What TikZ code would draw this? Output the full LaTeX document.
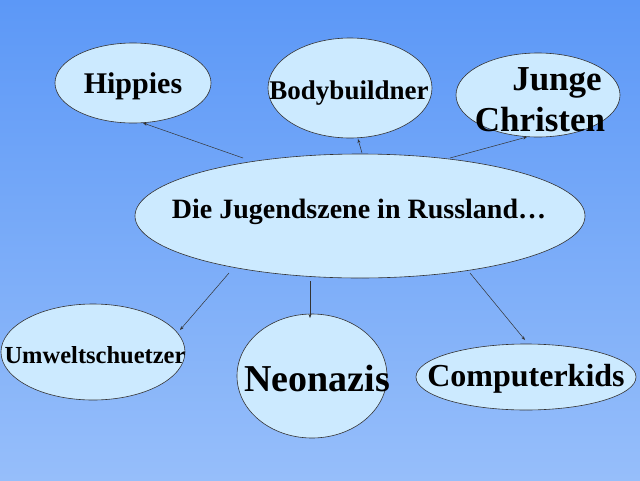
\documentclass[tikz,border=0pt]{standalone}
\usepackage{fontspec}
\setmainfont{Liberation Serif}
\usetikzlibrary{shapes.geometric,arrows.meta}
\begin{document}
\begin{tikzpicture}[x=1pt,y=-1pt,
  bub/.style={ellipse,draw=black!80,line width=0.6pt,fill={rgb,255:red,204;green,234;blue,255},inner sep=0pt,align=center},
  con/.style={draw=black!80,line width=0.5pt,-{Stealth[length=4pt,width=3pt]}}]
\shade[top color={rgb,255:red,92;green,152;blue,247},bottom color={rgb,255:red,150;green,190;blue,250}] (0,0) rectangle (640,480);
\useasboundingbox (0,0) rectangle (640,480);
\node[bub,minimum width=156pt,minimum height=80pt] (hip) at (133,83) {};
\node[font=\bfseries\fontsize{30}{34}\selectfont] at (133,86) {Hippies};
\node[bub,minimum width=164pt,minimum height=100pt] (bod) at (350,88) {};
\node[font=\bfseries\fontsize{27}{30}\selectfont] at (349,93) {Bodybuildner};
\node[bub,minimum width=164pt,minimum height=84pt] (jc) at (538,95) {};
\node[font=\bfseries\fontsize{35}{41}\selectfont,align=center] at (540,100) {\hspace*{34pt}Junge\\Christen};
\node[bub,minimum width=450pt,minimum height=124pt] (c) at (360,216) {};
\node[font=\bfseries\fontsize{28}{32}\selectfont] at (359,212) {Die Jugendszene in Russland…};
\node[bub,minimum width=184pt,minimum height=96pt] (um) at (93,352) {};
\node[font=\bfseries\fontsize{24.5}{28}\selectfont] at (95,355) {Umweltschuetzer};
\node[bub,minimum width=150pt,minimum height=124pt] (neo) at (312,376) {};
\node[font=\bfseries\fontsize{38}{42}\selectfont] at (317,378) {Neonazis};
\node[bub,minimum width=220pt,minimum height=66pt] (ck) at (526,377) {};
\node[font=\bfseries\fontsize{32}{36}\selectfont] at (526,379) {Computerkids};
\coordinate (a1) at (243,158); \coordinate (a2) at (362,153); \coordinate (a3) at (450,158);
\coordinate (b1) at (229,273); \coordinate (b2) at (310,281); \coordinate (b3) at (470,273);
\draw[con] (a1) -- (143,123);
\draw[con] (a2) -- (358,139);
\draw[con] (a3) -- (527,137);
\draw[con] (b1) -- (180,330);
\draw[con] (b2) -- (310,318);
\draw[con] (b3) -- (525,340);
\end{tikzpicture}
\end{document}
